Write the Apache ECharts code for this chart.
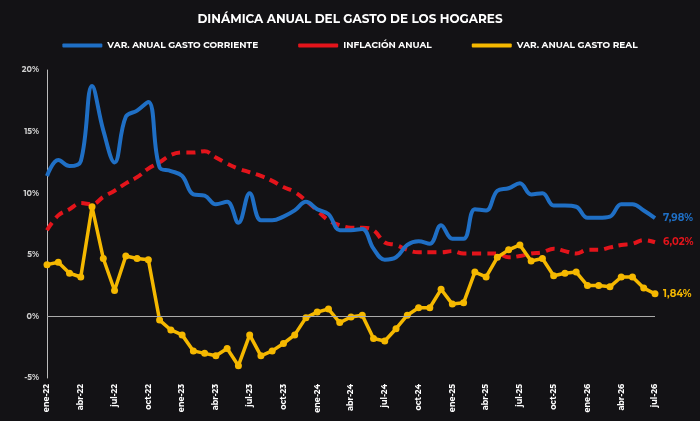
<!DOCTYPE html>
<html>
<head>
<meta charset="utf-8">
<script src="https://cdn.jsdelivr.net/npm/echarts@6/dist/echarts.min.js"></script>
<style>html,body{margin:0;padding:0;background:#131215}#chart{width:700px;height:421px}</style>
</head>
<body>
<div id="chart"></div>
<script>
var monthNames = ['ene', 'feb', 'mar', 'abr', 'may', 'jun', 'jul', 'ago', 'sep', 'oct', 'nov', 'dic'];
var months = [];
for (var y = 22; y <= 26; y++) {
    monthNames.forEach(function (m) { months.push(m + '-' + y); });
}
months = months.slice(0, 55); // ene-22 .. jul-26

var gastoCorriente = [11.4, 12.7, 12.2, 12.6, 18.7, 15.1, 12.5, 16.2, 16.7, 17.4,
    12.1, 11.8, 11.4, 9.9, 9.8, 9.1, 9.3, 7.6, 10.0, 7.8,
    7.8, 8.1, 8.6, 9.3, 8.7, 8.3, 7.0, 7.0, 7.1, 5.5,
    4.6, 4.8, 5.8, 6.1, 5.9, 7.4, 6.3, 6.3, 8.7, 8.6,
    10.2, 10.4, 10.8, 9.9, 10.0, 9.0, 9.0, 8.9, 8.0, 8.0,
    8.1, 9.1, 9.1, 8.6, 7.98];
var inflacion = [7.0, 8.2, 8.7, 9.2, 9.1, 9.7, 10.2, 10.8, 11.3, 12.0,
    12.5, 13.1, 13.3, 13.3, 13.4, 12.9, 12.4, 12.0, 11.7, 11.4,
    11.0, 10.5, 10.1, 9.4, 8.6, 7.8, 7.4, 7.2, 7.2, 7.0,
    6.0, 5.8, 5.4, 5.2, 5.2, 5.2, 5.3, 5.1, 5.1, 5.1,
    5.1, 4.8, 4.9, 5.1, 5.2, 5.5, 5.3, 5.1, 5.4, 5.4,
    5.6, 5.8, 5.9, 6.2, 6.02];
var gastoReal = [4.2, 4.4, 3.5, 3.2, 8.9, 4.7, 2.1, 4.9, 4.7, 4.6,
    -0.3, -1.1, -1.5, -2.8, -3.0, -3.2, -2.6, -4.0, -1.5, -3.2,
    -2.8, -2.2, -1.5, -0.1, 0.35, 0.6, -0.5, -0.05, 0.1, -1.8,
    -2.0, -1.0, 0.1, 0.7, 0.7, 2.2, 1.0, 1.1, 3.6, 3.2,
    4.8, 5.4, 5.8, 4.5, 4.7, 3.3, 3.5, 3.6, 2.5, 2.5,
    2.4, 3.2, 3.2, 2.3, 1.84];

var fmt = function (v) { return v.toFixed(2).replace('.', ',') + '%'; };

var chart = echarts.init(document.getElementById('chart'), null, { renderer: 'canvas' });

var option = {
    backgroundColor: '#131215',
    animation: false,
    textStyle: { fontFamily: 'Montserrat, Inter, sans-serif' },
    title: {
        text: 'DINÁMICA ANUAL DEL GASTO DE LOS HOGARES',
        left: 'center',
        top: 8,
        textStyle: { color: '#ffffff', fontSize: 12, fontWeight: 'bold' }
    },
    legend: {
        top: 36,
        left: 'center',
        itemGap: 40,
        itemWidth: 40,
        itemHeight: 4,
        icon: 'roundRect',
        textStyle: { color: '#ffffff', fontSize: 9, fontWeight: 'bold' },
        data: [
            { name: 'VAR. ANUAL GASTO CORRIENTE', itemStyle: { color: '#1f6fc5' } },
            { name: 'INFLACIÓN ANUAL', itemStyle: { color: '#e3141b' } },
            { name: 'VAR. ANUAL GASTO REAL', itemStyle: { color: '#f5b800' } }
        ]
    },
    grid: { left: 47, right: 45, top: 70, bottom: 43 },
    xAxis: {
        type: 'category',
        data: months,
        boundaryGap: false,
        axisLine: { show: false },
        axisTick: { show: false },
        axisLabel: {
            color: '#ffffff', fontSize: 8, fontWeight: 'bold', rotate: 90,
            interval: 2, margin: 6
        },
        splitLine: { show: false }
    },
    yAxis: {
        type: 'value',
        min: -5,
        max: 20,
        interval: 5,
        axisLine: { show: true, lineStyle: { color: '#bbbbbb', width: 1 } },
        axisTick: { show: false },
        axisLabel: {
            color: '#cccccc', fontSize: 8, fontWeight: 'bold',
            formatter: function (v) { return v + '%'; }
        },
        splitLine: { show: false }
    },
    series: [
        {
            name: 'VAR. ANUAL GASTO CORRIENTE',
            type: 'line',
            data: gastoCorriente,
            smooth: 0.4,
            showSymbol: false,
            lineStyle: { color: '#1f6fc5', width: 4 },
            itemStyle: { color: '#1f6fc5' },
            endLabel: {
                show: true, color: '#1f6fc5', fontSize: 10, fontWeight: 'bold', distance: 8,
                formatter: function (p) { return fmt(p.value); }
            },
            markLine: {
                silent: true, symbol: 'none', label: { show: false },
                lineStyle: { color: '#aaaaaa', width: 1, type: 'solid' },
                data: [{ yAxis: 0 }]
            },
            z: 3
        },
        {
            name: 'INFLACIÓN ANUAL',
            type: 'line',
            data: inflacion,
            smooth: 0.4,
            showSymbol: false,
            lineStyle: { color: '#e3141b', width: 4, type: [9, 6] },
            itemStyle: { color: '#e3141b' },
            endLabel: {
                show: true, color: '#e3141b', fontSize: 10, fontWeight: 'bold', distance: 8,
                formatter: function (p) { return fmt(p.value); }
            },
            z: 2
        },
        {
            name: 'VAR. ANUAL GASTO REAL',
            type: 'line',
            data: gastoReal,
            symbol: 'circle',
            symbolSize: 7,
            showSymbol: true,
            lineStyle: { color: '#f5b800', width: 3.5 },
            itemStyle: { color: '#f5b800' },
            endLabel: {
                show: true, color: '#f5b800', fontSize: 10, fontWeight: 'bold', distance: 8,
                formatter: function (p) { return fmt(p.value); }
            },
            z: 4
        }
    ]
};

chart.setOption(option);
window.addEventListener('resize', chart.resize);
</script>
</body>
</html>
